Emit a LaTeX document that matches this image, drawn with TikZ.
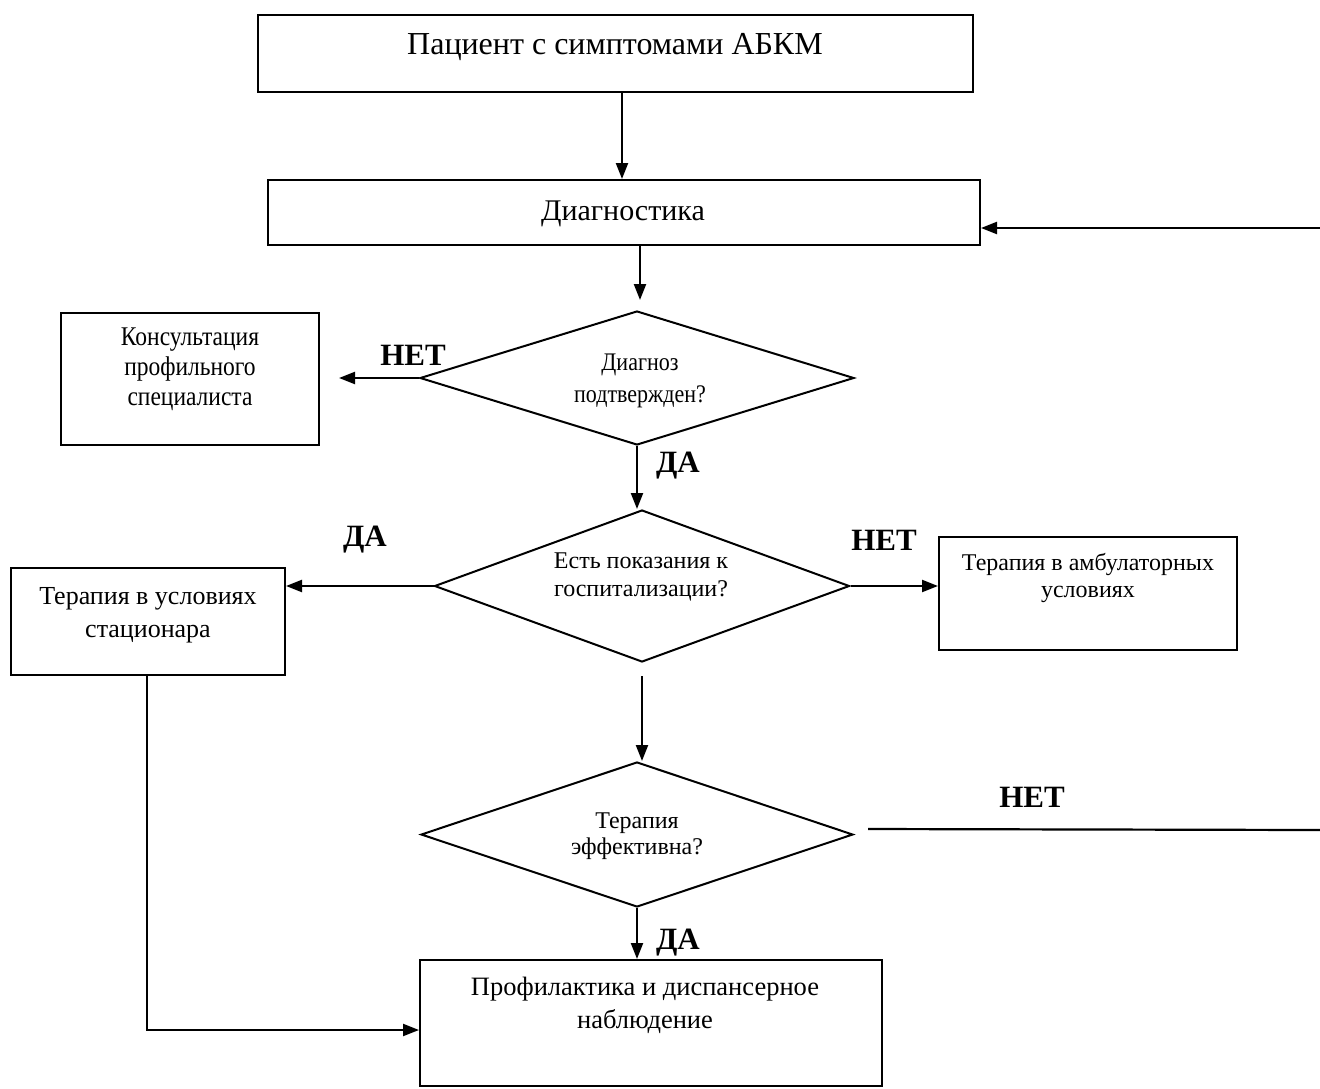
\documentclass[tikz,border=0pt]{standalone}
\usepackage{fontspec}
\setmainfont{Liberation Serif}
\usetikzlibrary{shapes.geometric,arrows.meta}
\newcommand{\tallline}[1]{\scalebox{1}[1.15]{#1}}
\tikzset{
  box/.style={draw, line width=2pt, rectangle, inner sep=0pt},
  dia/.style={draw, line width=2pt, diamond, inner sep=0pt},
  txt/.style={align=center, inner sep=0pt},
  lab/.style={font=\fontsize{31}{34}\selectfont\bfseries, inner sep=0pt},
  conn/.style={line width=2.2pt},
  arr/.style={line width=2.2pt, -{Triangle[length=16pt,width=12pt]}},
}
\begin{document}
\begin{tikzpicture}[x=1pt,y=-1pt]
\useasboundingbox (0,0) rectangle (1320,1088);
% boxes
\node[box, minimum width=715, minimum height=77] (b1) at (615.5,53.5) {};
\node[box, minimum width=712, minimum height=65] (b2) at (624,212.5) {};
\node[box, minimum width=258, minimum height=132] (cons) at (190,379) {};
\node[box, minimum width=274, minimum height=107] (stat) at (148,621.5) {};
\node[box, minimum width=298, minimum height=113] (amb) at (1088,593.5) {};
\node[box, minimum width=462, minimum height=126] (fin) at (651,1023) {};
% diamonds
\node[dia, minimum width=434, minimum height=134] (d1) at (637,378) {};
\node[dia, minimum width=415, minimum height=152] (d2) at (642,586) {};
\node[dia, minimum width=432, minimum height=145] (d3) at (637,834.5) {};
% texts
\node[txt, font=\fontsize{32}{36}\selectfont] at (615,47) {Пациент с симптомами АБКМ};
\node[txt, font=\fontsize{30}{34}\selectfont] at (623,214) {Диагностика};
\node[txt, font=\fontsize{23.5}{30}\selectfont] at (190,369) {\tallline{Консультация}\\\tallline{профильного}\\\tallline{специалиста}};
\node[txt, font=\fontsize{22}{32}\selectfont] at (640,381) {\tallline{Диагноз}\\\tallline{подтвержден?}};
\node[txt, font=\fontsize{24}{28}\selectfont] at (641,577) {Есть показания к\\госпитализации?};
\node[txt, font=\fontsize{26}{33}\selectfont] at (148,615.5) {Терапия в условиях\\стационара};
\node[txt, font=\fontsize{24}{27}\selectfont] at (1088,578) {Терапия в амбулаторных\\условиях};
\node[txt, font=\fontsize{24}{26}\selectfont] at (637,836.5) {Терапия\\эффективна?};
\node[txt, font=\fontsize{26.5}{33}\selectfont] at (645,1005) {Профилактика и диспансерное\\наблюдение};
% labels
\node[lab] at (413,355) {НЕТ};
\node[lab] at (678,466) {ДА};
\node[lab] at (365,540) {ДА};
\node[lab] at (884,540) {НЕТ};
\node[lab] at (1032,797) {НЕТ};
\node[lab] at (678,943) {ДА};
% coordinates
\coordinate (rtop) at (1320,228);
\coordinate (rbot) at (1320,830);
\coordinate (nstart) at (868,829);
\coordinate (corner) at (147,1030);
% connectors
\draw[arr] ([xshift=6.5pt]b1.south) -- ([xshift=6.5pt]b1.south |- b2.north);
\draw[arr, shorten >=10pt] ([xshift=16pt]b2.south) -- ([xshift=16pt]b2.south |- d1.north);
\draw[arr, shorten >=19pt] (d1.west) -- (d1.west -| cons.east);
\draw[arr] (d1.south) -- (d1.south |- d2.north);
\draw[arr] (d2.west) -- (d2.west -| stat.east);
\draw[arr] (d2.east) -- (d2.east -| amb.west);
\draw[arr, shorten <=13pt] (d2.south) -- (d2.south |- d3.north);
\draw[arr] (d3.south) -- (d3.south |- fin.north);
\draw[conn] (nstart) -- (rbot);
\draw[arr] (rtop) -- (rtop -| b2.east);
\draw[arr] (stat.south -| corner) -- (corner) -- (corner -| fin.west);
\end{tikzpicture}
\end{document}
